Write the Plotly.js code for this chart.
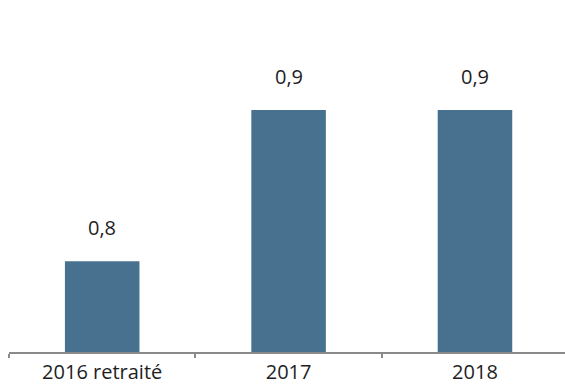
<!DOCTYPE html>
<html>
<head>
<meta charset="utf-8">
<script src="https://cdn.plot.ly/plotly-3.0.1.min.js"></script>
<style>html,body{margin:0;padding:0;background:#fff;}#chart{width:565px;height:384px;}</style>
</head>
<body>
<div id="chart"></div>
<script>
var categories = ["2016 retraité", "2017", "2018"];
var values = [0.8, 0.9, 0.9];
var labels = ["0,8", "0,9", "0,9"];

var barColor = "#48718f";
var axisColor = "#8a8a8a";
var textColor = "#1e1e1e";
var fontFam = "Open Sans, Noto Sans, sans-serif";

var trace = {
  type: "bar",
  x: categories,
  y: values,
  width: 0.4,
  marker: {color: barColor},
  hoverinfo: "none"
};

var annotations = categories.map(function(c, i){
  return {
    x: i, y: values[i], xref: "x", yref: "y",
    text: labels[i], showarrow: false, yshift: 34,
    font: {family: fontFam, size: 20, color: textColor}
  };
});

var layout = {
  width: 565, height: 384,
  margin: {l: 9, r: 0, t: 0, b: 32, pad: 0},
  paper_bgcolor: "#fff", plot_bgcolor: "#fff",
  showlegend: false,
  xaxis: {
    type: "category",
    range: [-0.5, 2.483],
    showline: true, linecolor: axisColor, linewidth: 2,
    ticks: "outside", tickson: "boundaries", ticklen: 4, tickwidth: 2, tickcolor: axisColor,
    tickfont: {family: fontFam, size: 20, color: textColor},
    ticklabelstandoff: 1,
    showgrid: false, zeroline: false, fixedrange: true
  },
  yaxis: {
    visible: false, range: [0.740, 0.9728],
    showgrid: false, zeroline: false, fixedrange: true
  },
  annotations: annotations
};

Plotly.newPlot("chart", [trace], layout, {displayModeBar: false, staticPlot: true});
</script>
</body>
</html>
